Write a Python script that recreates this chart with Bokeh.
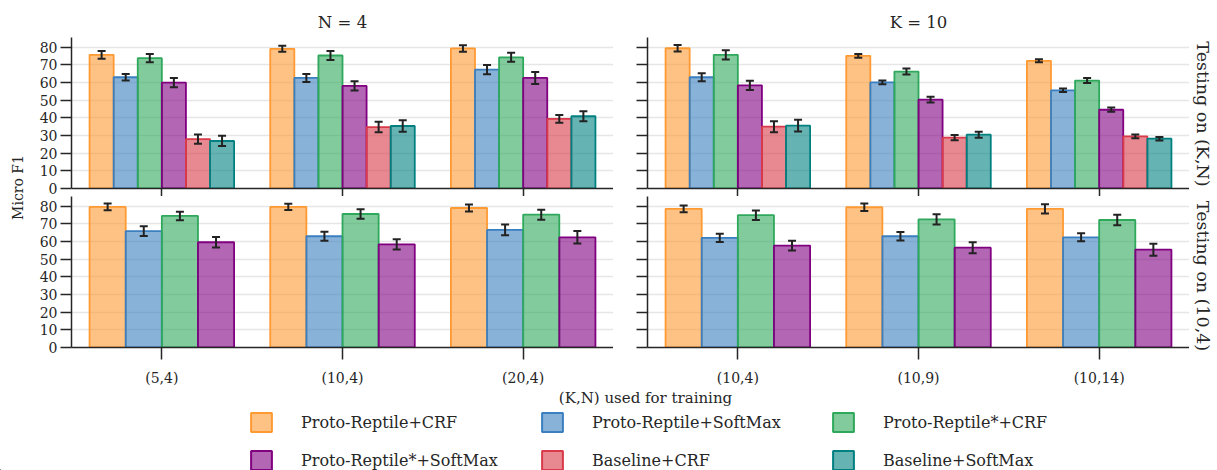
import math
from bokeh.plotting import figure
from bokeh.layouts import row, column
from bokeh.models import (ColumnDataSource, FactorRange, Range1d, FixedTicker, Whisker,
                          TeeHead, Legend, LegendItem, Label)
from bokeh.transform import dodge
from bokeh.embed import file_html
from bokeh.resources import INLINE

# ---------------- data ----------------
series = ["Proto-Reptile+CRF", "Proto-Reptile+SoftMax", "Proto-Reptile*+CRF",
          "Proto-Reptile*+SoftMax", "Baseline+CRF", "Baseline+SoftMax"]
colors = ["#ff9a33", "#3a7fc0", "#2ea85b", "#800080", "#d93a4a", "#008080"]

cats_n4 = ["(5,4)", "(10,4)", "(20,4)"]
cats_k10 = ["(10,4)", "(10,9)", "(10,14)"]

# testing on (K,N), N = 4
kn_n4_mean = [[75.7, 79.1, 79.3], [63.0, 62.6, 67.3], [73.8, 75.3, 74.3],
              [60.0, 58.1, 62.6], [28.0, 34.8, 39.4], [26.9, 35.4, 40.9]]
kn_n4_err = [[2.2, 1.7, 1.8], [1.9, 2.3, 2.6], [2.3, 2.6, 2.6],
             [2.6, 2.6, 3.4], [2.6, 3.0, 2.2], [2.9, 3.2, 2.8]]
# testing on (K,N), K = 10
kn_k10_mean = [[79.4, 75.1, 72.3], [63.0, 60.1, 55.6], [75.7, 66.2, 61.1],
               [58.4, 50.3, 44.6], [35.0, 28.8, 29.5], [35.6, 30.5, 28.2]]
kn_k10_err = [[1.8, 1.0, 0.85], [2.3, 1.1, 1.0], [2.6, 1.7, 1.4],
              [2.6, 1.6, 1.2], [3.1, 1.5, 1.1], [3.3, 1.7, 1.0]]
# testing on (10,4), N = 4
t104_n4_mean = [[79.6, 79.6, 79.0], [65.9, 63.0, 66.6], [74.5, 75.6, 75.2],
                [59.6, 58.4, 62.4]]
t104_n4_err = [[1.9, 1.8, 2.0], [2.7, 2.5, 3.0], [2.4, 2.7, 2.8], [3.0, 2.9, 3.5]]
# testing on (10,4), K = 10
t104_k10_mean = [[78.5, 79.4, 78.5], [62.1, 63.0, 62.4], [74.9, 72.6, 72.2],
                 [57.7, 56.5, 55.4]]
t104_k10_err = [[1.9, 2.1, 2.6], [2.3, 2.4, 2.3], [2.7, 2.9, 3.0], [2.8, 3.1, 3.4]]

y_ticks = [0, 10, 20, 30, 40, 50, 60, 70, 80]

FONT = "DejaVu Serif"
TXT = "#262626"
FW, FH = 542, 151
TOP_B, MID_B, BOT_B = 37, 8, 40


def panel(cats, means, errs, title, left_labels, bottom_labels, mb_left, mb_top, mb_bottom):
    p = figure(x_range=FactorRange(factors=cats), y_range=Range1d(0, 85.5),
               frame_width=FW, frame_height=FH, output_backend="svg", toolbar_location=None,
               min_border_left=mb_left, min_border_right=0, min_border_top=mb_top,
               min_border_bottom=mb_bottom, title=title)
    n = len(means)
    w = 0.8 / n
    data = dict(cats=cats)
    for i in range(n):
        data[f"m{i}"] = means[i]
        data[f"lo{i}"] = [m - e for m, e in zip(means[i], errs[i])]
        data[f"hi{i}"] = [m + e for m, e in zip(means[i], errs[i])]
    src = ColumnDataSource(data)
    for i in range(n):
        off = (i - (n - 1) / 2) * w
        c = colors[i]
        p.vbar(x=dodge("cats", off, range=p.x_range), top=f"m{i}", width=w, source=src,
               fill_color=c, fill_alpha=0.6, line_color=c, line_width=1.8)
        wh = Whisker(source=src, base=dodge("cats", off, range=p.x_range),
                     upper=f"hi{i}", lower=f"lo{i}", line_color="#222222", line_width=2,
                     upper_head=TeeHead(size=8, line_color="#222222", line_width=2),
                     lower_head=TeeHead(size=8, line_color="#222222", line_width=2))
        wh.level = "overlay"
        p.add_layout(wh)
    p.outline_line_color = None
    p.xgrid.grid_line_color = None
    p.ygrid.grid_line_color = "#e6e6e6"
    p.ygrid.grid_line_width = 1.5
    p.yaxis.ticker = FixedTicker(ticks=y_ticks)
    for ax in (p.xaxis[0], p.yaxis[0]):
        ax.axis_line_color = TXT
        ax.axis_line_width = 1.5
        ax.major_tick_line_color = TXT
        ax.major_tick_line_width = 1.5
        ax.minor_tick_line_color = None
        ax.major_tick_in = 0
        ax.major_label_text_font = FONT
        ax.major_label_text_font_size = "14px"
        ax.major_label_text_color = TXT
    p.yaxis.major_tick_out = 11
    p.yaxis.major_label_standoff = 3
    if not left_labels:
        p.yaxis.major_label_overrides = {t: "" for t in y_ticks}
    if bottom_labels:
        p.xaxis.major_tick_out = 12
        p.xaxis.major_label_standoff = 10
    else:
        p.xaxis.major_tick_out = 8
        p.xaxis.major_label_standoff = 0
        p.xaxis.major_label_overrides = {c: "" for c in cats}
        p.xaxis.major_label_text_font_size = "0px"
    if title:
        p.title.text_font = FONT
        p.title.text_font_size = "16.5px"
        p.title.text_font_style = "normal"
        p.title.text_color = TXT
        p.title.align = "center"
        p.title.standoff = 12
    return p


tl = panel(cats_n4, kn_n4_mean, kn_n4_err, "N = 4", True, False, 35, TOP_B, MID_B)
tr = panel(cats_k10, kn_k10_mean, kn_k10_err, "K = 10", False, False, 34, TOP_B, MID_B)
bl = panel(cats_n4, t104_n4_mean, t104_n4_err, None, True, True, 35, 0, BOT_B)
br = panel(cats_k10, t104_k10_mean, t104_k10_err, None, False, True, 34, 0, BOT_B)

H_PLOTS = (TOP_B + FH + MID_B) + (FH + BOT_B)


def blank(w, h):
    f = figure(width=w, height=h, x_range=Range1d(0, w), y_range=Range1d(0, h),
               output_backend="svg", toolbar_location=None, min_border=0)
    f.axis.visible = False
    f.grid.grid_line_color = None
    f.outline_line_color = None
    return f


left_fig = blank(36, H_PLOTS)
left_fig.add_layout(Label(x=17, y=H_PLOTS - 187, text="Micro F1", angle=math.pi / 2,
                          text_align="center", text_baseline="middle", text_font=FONT,
                          text_font_size="14px", text_color=TXT))

right_fig = blank(28, H_PLOTS)
right_fig.add_layout(Label(x=13, y=H_PLOTS - 113.5, text="Testing on (K,N)", angle=-math.pi / 2,
                           text_align="center", text_baseline="middle", text_font=FONT,
                           text_font_size="17.5px", text_color=TXT))
right_fig.add_layout(Label(x=13, y=H_PLOTS - 275.5, text="Testing on (10,4)", angle=-math.pi / 2,
                           text_align="center", text_baseline="middle", text_font=FONT,
                           text_font_size="17.5px", text_color=TXT))

LW, LH = 1217, 470 - H_PLOTS
leg_fig = blank(LW, LH)
leg_fig.add_layout(Label(x=645, y=LH - (396 - H_PLOTS), text="(K,N) used for training",
                         text_align="center", text_baseline="middle", text_font=FONT,
                         text_font_size="15px", text_color=TXT))
items = []
for s, c in zip(series, colors):
    r = leg_fig.vbar(x=[-1000], top=[1], width=1, fill_color=c, fill_alpha=0.6, line_color=c, line_width=2)
    items.append(LegendItem(label=s, renderers=[r]))
legend = Legend(items=items, orientation="horizontal", ncols=3, location=(248, -1),
                glyph_width=26, glyph_height=24, label_standoff=27, label_width=224,
                spacing=14, padding=0, margin=0, border_line_color=None,
                background_fill_alpha=0, label_text_font=FONT, label_text_font_size="16px",
                label_text_color=TXT)
leg_fig.add_layout(legend)

layout = column(row(left_fig, column(row(tl, tr), row(bl, br)), right_fig), leg_fig)

open("out.html", "w").write(file_html(layout, INLINE))
